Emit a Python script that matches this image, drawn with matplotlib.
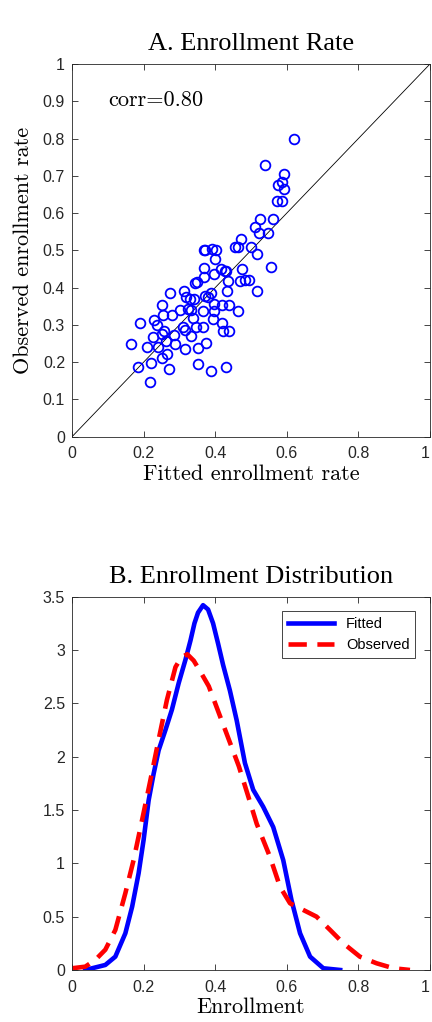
import matplotlib
matplotlib.use("Agg")
import matplotlib.pyplot as plt

# --- panel A data: fitted vs observed enrollment rate ---
fitted = [0.619, 0.540, 0.591, 0.575, 0.586, 0.592, 0.573, 0.586, 0.524, 0.5625,
          0.510, 0.522, 0.5485, 0.471, 0.454, 0.4636, 0.499, 0.517, 0.368, 0.372,
          0.390, 0.403, 0.400, 0.557, 0.369, 0.416, 0.426, 0.431, 0.474, 0.398,
          0.3675, 0.436, 0.469, 0.483, 0.4935, 0.344, 0.350, 0.3116, 0.275, 0.432,
          0.518, 0.388, 0.371, 0.319, 0.329, 0.342, 0.379, 0.250, 0.396, 0.419,
          0.439, 0.324, 0.303, 0.331, 0.366, 0.398, 0.4646, 0.253, 0.278, 0.3386,
          0.3946, 0.191, 0.229, 0.238, 0.420, 0.311, 0.347, 0.367, 0.316, 0.422,
          0.4375, 0.258, 0.250, 0.284, 0.333, 0.226, 0.263, 0.287, 0.374, 0.164,
          0.210, 0.2407, 0.3153, 0.3526, 0.266, 0.251, 0.221, 0.3526, 0.1847, 0.2696,
          0.387, 0.429, 0.218]
observed = [0.800, 0.730, 0.705, 0.674, 0.683, 0.664, 0.633, 0.633, 0.583, 0.583,
            0.5635, 0.5456, 0.5456, 0.531, 0.508, 0.508, 0.508, 0.490, 0.501, 0.501,
            0.504, 0.501, 0.478, 0.454, 0.453, 0.451, 0.445, 0.445, 0.449, 0.437,
            0.4275, 0.419, 0.419, 0.420, 0.420, 0.4115, 0.415, 0.392, 0.386, 0.392,
            0.392, 0.385, 0.377, 0.3757, 0.3685, 0.3685, 0.375, 0.354, 0.356, 0.354,
            0.354, 0.342, 0.340, 0.340, 0.336, 0.336, 0.336, 0.327, 0.327, 0.318,
            0.315, 0.304, 0.313, 0.299, 0.306, 0.293, 0.293, 0.293, 0.286, 0.284,
            0.283, 0.283, 0.2755, 0.272, 0.270, 0.2665, 0.2576, 0.2487, 0.252, 0.2487,
            0.2415, 0.240, 0.236, 0.238, 0.222, 0.211, 0.1986, 0.195, 0.188, 0.1825,
            0.177, 0.186, 0.1467]

# --- panel B data: densities ---
fit_x = [0.037, 0.093, 0.121, 0.149, 0.168, 0.186, 0.200, 0.214, 0.228, 0.242,
         0.261, 0.279, 0.298, 0.317, 0.331, 0.342, 0.352, 0.366, 0.380, 0.394,
         0.408, 0.422, 0.441, 0.460, 0.483, 0.506, 0.534, 0.562, 0.590, 0.613,
         0.637, 0.665, 0.702, 0.749]
fit_y = [0.0, 0.047, 0.125, 0.344, 0.594, 0.906, 1.22, 1.59, 1.84, 2.06,
         2.25, 2.44, 2.69, 2.91, 3.09, 3.25, 3.35, 3.42, 3.38, 3.25,
         3.06, 2.86, 2.62, 2.34, 1.94, 1.69, 1.53, 1.34, 1.03, 0.656,
         0.344, 0.125, 0.016, 0.0]
obs_x = [0.0, 0.037, 0.065, 0.093, 0.121, 0.149, 0.172, 0.196, 0.219, 0.242,
         0.265, 0.289, 0.305, 0.322, 0.340, 0.358, 0.382, 0.410, 0.438, 0.466,
         0.493, 0.516, 0.553, 0.581, 0.609, 0.646, 0.683, 0.721, 0.758, 0.804,
         0.851, 0.898, 0.944]
obs_y = [0.016, 0.031, 0.094, 0.19, 0.375, 0.72, 1.03, 1.41, 1.78, 2.16,
         2.53, 2.84, 2.93, 2.96, 2.90, 2.80, 2.66, 2.41, 2.16, 1.91,
         1.62, 1.37, 1.06, 0.78, 0.625, 0.5625, 0.50, 0.375, 0.25, 0.125,
         0.0625, 0.016, 0.0]

corr_label = "corr=0.80"

title_font = "Liberation Serif"
label_font = "cmr10"
sans = "Liberation Sans"
ink = "#262626"

fig = plt.figure(figsize=(4.32, 10.22), dpi=100)
ax1 = fig.add_axes([0.1667, 0.5727, 0.8287, 0.3647])
ax2 = fig.add_axes([0.1667, 0.0509, 0.8287, 0.3653])


def style_axes(ax):
    for s in ax.spines.values():
        s.set_color(ink)
        s.set_linewidth(0.6)
    ax.tick_params(direction="in", length=4, width=0.6, colors=ink,
                   top=True, right=True, labelsize=11.5)
    ax.tick_params(axis="x", pad=7)
    ax.tick_params(axis="y", pad=5)
    for lab in ax.get_xticklabels() + ax.get_yticklabels():
        lab.set_fontfamily(sans)
    # the "1" at the right edge sits flush against the figure border
    ax.get_xticklabels()[-1].set_horizontalalignment("right")


def fmt(v):
    return "%g" % v


# panel A
ax1.plot([0, 1], [0, 1], color="black", lw=0.6)
ax1.plot(fitted, observed, linestyle="none", marker="o", markersize=7,
         markerfacecolor="none", markeredgecolor="blue", markeredgewidth=1.3)
ax1.set_xlim(0, 1)
ax1.set_ylim(0, 1)
xt = [0, 0.2, 0.4, 0.6, 0.8, 1]
yt = [i / 10 for i in range(11)]
ax1.set_xticks(xt, [fmt(v) for v in xt])
ax1.set_yticks(yt, [fmt(v) for v in yt])
ax1.text(0.10, 0.903, corr_label, family=label_font, fontsize=16, va="center")
ax1.set_xlabel("Fitted enrollment rate", family=label_font, fontsize=16, labelpad=2)
ax1.set_ylabel("Observed enrollment rate", family=label_font, fontsize=16, labelpad=7)
ax1.set_title("A. Enrollment Rate", family=title_font, fontsize=19, pad=10)
style_axes(ax1)

# panel B
ax2.plot(fit_x, fit_y, color="blue", lw=3.3, label="Fitted",
         solid_joinstyle="round")
ax2.plot(obs_x, obs_y, color="red", lw=3.3, dashes=(4, 2.3), label="Observed")
ax2.set_xlim(0, 1)
ax2.set_ylim(0, 3.5)
yt2 = [i * 0.5 for i in range(8)]
ax2.set_xticks(xt, [fmt(v) for v in xt])
ax2.set_yticks(yt2, [fmt(v) for v in yt2])
ax2.set_xlabel("Enrollment", family=label_font, fontsize=16, labelpad=2)
ax2.set_title("B. Enrollment Distribution", family=title_font, fontsize=19, pad=10)
leg = ax2.legend(loc="upper right", prop={"family": sans, "size": 10.5},
                 fancybox=False, edgecolor=ink, framealpha=1,
                 handlelength=3.2, borderaxespad=1.0)
leg.get_frame().set_linewidth(0.6)
style_axes(ax2)

fig.savefig("out.png", dpi=100)
